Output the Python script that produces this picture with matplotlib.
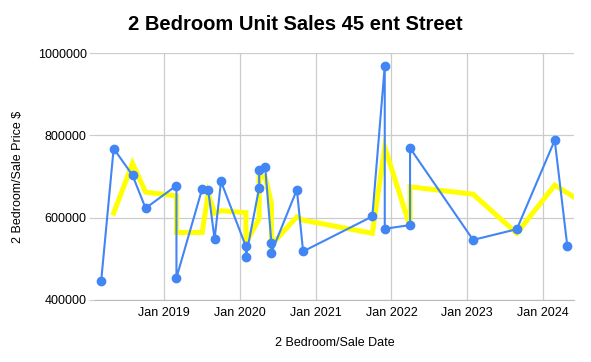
import matplotlib
matplotlib.use('Agg')
import matplotlib.pyplot as plt
import matplotlib.dates as mdates
import matplotlib.ticker as mticker
import pandas as pd

plt.rcParams['font.family'] = ['Liberation Sans', 'DejaVu Sans']

# sale dates and prices (blue series)
sale_dates = ['2018-03-03', '2018-05-02', '2018-08-01', '2018-10-03',
              '2019-03-01', '2019-03-01', '2019-07-03', '2019-08-01',
              '2019-09-01', '2019-10-02', '2020-01-30', '2020-01-30',
              '2020-04-03', '2020-04-03', '2020-05-02', '2020-06-01',
              '2020-06-01', '2020-10-02', '2020-11-01', '2021-10-01',
              '2021-11-30', '2021-11-30', '2022-04-01', '2022-04-01',
              '2023-01-30', '2023-08-29', '2024-02-28', '2024-04-29']
sale_prices = [447000, 768000, 703000, 623000,
               678000, 454000, 670000, 667000,
               548000, 688000, 530000, 504000,
               673000, 717000, 723000, 539000,
               515000, 668000, 518000, 603000,
               969000, 573000, 582000, 769000,
               546000, 572000, 788000, 530000]

# trend line (yellow series)
trend_dates = ['2018-05-02', '2018-08-01', '2018-10-03', '2019-03-01',
               '2019-03-01', '2019-07-03', '2019-08-01', '2019-09-01',
               '2019-10-02', '2020-01-30', '2020-01-30', '2020-04-03',
               '2020-04-03', '2020-05-02', '2020-06-01', '2020-06-01',
               '2020-10-02', '2020-11-01', '2021-10-01', '2021-11-30',
               '2022-04-01', '2022-04-01', '2023-01-30', '2023-08-29',
               '2024-02-28', '2024-05-28']
trend_prices = [611000, 732000, 662000, 653000,
                564000, 564000, 659000, 611000,
                617000, 612000, 538000, 598000,
                699000, 699000, 635000, 534000,
                602000, 594000, 562000, 771000,
                578000, 675000, 657000, 562000,
                679000, 651000]

xd = pd.to_datetime(sale_dates)
td = pd.to_datetime(trend_dates)

fig = plt.figure(figsize=(5.91, 3.62), dpi=100)
ax = fig.add_axes([95 / 591, 1 - 300 / 362, 479 / 591, 247 / 362])

ax.plot(td, trend_prices, color='#ffff00', lw=3.6, solid_joinstyle='miter', zorder=2)
ax.plot(xd, sale_prices, color='#4285f4', lw=1.5, marker='o', ms=6, zorder=3)

ax.set_ylim(400000, 1000000)
ax.yaxis.set_major_locator(mticker.MultipleLocator(200000))
ax.yaxis.set_major_formatter(mticker.FormatStrFormatter('%d'))
ax.set_xlim(pd.Timestamp('2018-02-01'), pd.Timestamp('2024-05-31'))
ax.xaxis.set_major_locator(mdates.YearLocator())
ax.xaxis.set_major_formatter(mdates.DateFormatter('Jan %Y'))

ax.grid(True, color='#cccccc', lw=0.9)
for s in ['top', 'right', 'left']:
    ax.spines[s].set_visible(False)
ax.spines['bottom'].set_color('#bbbbbb')
ax.tick_params(axis='y', length=4, color='#cccccc', labelsize=9, pad=2)
ax.tick_params(axis='x', length=0, labelsize=9, pad=5)

ax.set_xlabel('2 Bedroom/Sale Date', fontsize=9, labelpad=13)
ax.set_ylabel('2 Bedroom/Sale Price $', fontsize=9, labelpad=10)
fig.text(295 / 591, 1 - 25 / 362, '2 Bedroom Unit Sales 45 ent Street',
         ha='center', va='center', fontsize=14.5, fontweight='bold')

fig.savefig('out.png', dpi=100)
